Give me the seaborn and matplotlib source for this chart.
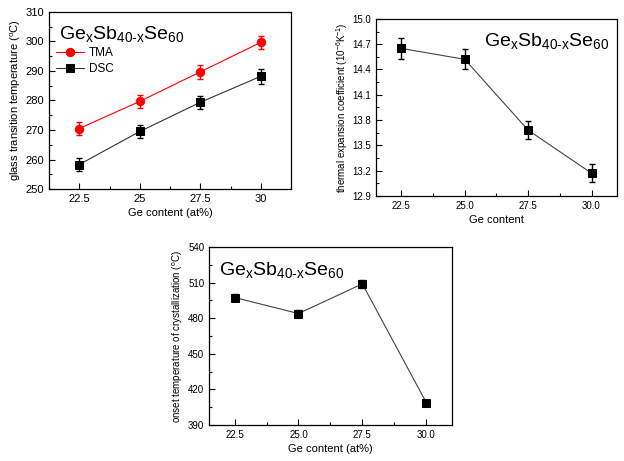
import numpy as np
import pandas as pd
import seaborn as sns
import matplotlib.pyplot as plt
from matplotlib.ticker import MultipleLocator

# dados
ge = [22.5, 25.0, 27.5, 30.0]
tg_tma = [270.5, 279.7, 289.7, 299.7]
tg_tma_err = [2.2, 2.2, 2.3, 2.3]
tg_dsc = [258.3, 269.5, 279.4, 288.2]
tg_dsc_err = [2.2, 2.2, 2.2, 2.5]
cte = [14.65, 14.52, 13.68, 13.17]
cte_err = [0.12, 0.12, 0.11, 0.11]
tx = [497.5, 484.0, 509.0, 409.0]
tx_err = [3.0, 3.0, 3.5, 2.5]

sns.set_theme(style="ticks")
plt.rcParams["font.family"] = ["Liberation Sans", "DejaVu Sans"]
plt.rcParams["mathtext.fontset"] = "custom"
plt.rcParams["mathtext.rm"] = "Liberation Sans"
plt.rcParams["mathtext.default"] = "regular"
for k in ["text.color", "axes.labelcolor", "xtick.color", "ytick.color",
          "axes.edgecolor"]:
    plt.rcParams[k] = "black"

formula = r"Ge$_x$Sb$_{40\text{-}x}$Se$_{60}$"

fig = plt.figure(figsize=(6.24, 4.61), dpi=100)
ax1 = fig.add_axes([0.0785, 0.590, 0.388, 0.384])
ax2 = fig.add_axes([0.6026, 0.575, 0.386, 0.384])
ax3 = fig.add_axes([0.335, 0.078, 0.389, 0.386])


def estilo(ax, tick_size):
    for s in ax.spines.values():
        s.set_linewidth(0.9)
        s.set_color("black")
    ax.tick_params(which="both", direction="in", labelsize=tick_size,
                   color="black", width=0.8)
    ax.tick_params(which="major", length=4)
    ax.tick_params(which="minor", length=2.5)
    ax.tick_params(top=False, right=False, which="both")


def serie(ax, y, err, cor, marcador, nome=None, cor_linha=None, ms=6):
    df = pd.DataFrame({"x": ge, "y": y})
    sns.lineplot(data=df, x="x", y="y", ax=ax, color=cor_linha or cor, lw=0.8,
                 marker=marcador, markersize=ms, markeredgecolor=cor,
                 markerfacecolor=cor, label=nome, legend=False)
    ax.errorbar(ge, y, yerr=err, fmt="none", ecolor=cor, elinewidth=1,
                capsize=2.5, capthick=1)


# painel 1 - temperatura de transição vítrea
serie(ax1, tg_tma, tg_tma_err, "red", "o", "TMA")
serie(ax1, tg_dsc, tg_dsc_err, "black", "s", "DSC", cor_linha="#333333")
ax1.set_xlim(21.25, 31.25)
ax1.set_ylim(250, 310)
ax1.set_xticks(ge)
ax1.set_xticklabels(["22.5", "25", "27.5", "30"])
ax1.xaxis.set_minor_locator(MultipleLocator(1.25))
ax1.yaxis.set_major_locator(MultipleLocator(10))
ax1.yaxis.set_minor_locator(MultipleLocator(5))
ax1.set_xlabel("Ge content (at%)", fontsize=8, labelpad=3)
ax1.set_ylabel("glass transition temperature ($^o$C)", fontsize=8, labelpad=2)
estilo(ax1, 8)
ax1.text(0.04, 0.93, formula, transform=ax1.transAxes, fontsize=14,
         va="top", ha="left")
ax1.legend(loc="upper left", bbox_to_anchor=(0.0, 0.84), frameon=False,
           fontsize=8.5, handlelength=2.4, handletextpad=0.4,
           labelspacing=0.3, borderaxespad=0.2)

# painel 2 - coeficiente de expansão térmica
serie(ax2, cte, cte_err, "black", "s", cor_linha="#444444")
ax2.set_xlim(21.5, 31.0)
ax2.set_ylim(12.9, 15.0)
ax2.set_xticks(ge)
ax2.set_xticklabels(["22.5", "25.0", "27.5", "30.0"])
ax2.xaxis.set_minor_locator(MultipleLocator(1.25))
ax2.yaxis.set_major_locator(MultipleLocator(0.3))
ax2.yaxis.set_minor_locator(MultipleLocator(0.15))
ax2.yaxis.set_major_formatter(plt.FormatStrFormatter("%.1f"))
ax2.set_xlabel("Ge content", fontsize=8, labelpad=3)
ax2.set_ylabel("thermal expansion coefficient (10$^{-6}$K$^{-1}$)",
               fontsize=7, labelpad=2)
estilo(ax2, 7)
ax2.text(0.97, 0.93, formula, transform=ax2.transAxes, fontsize=14,
         va="top", ha="right")

# painel 3 - início da cristalização
serie(ax3, tx, tx_err, "black", "s", cor_linha="#444444")
ax3.set_xlim(21.5, 31.0)
ax3.set_ylim(390, 540)
ax3.set_xticks(ge)
ax3.set_xticklabels(["22.5", "25.0", "27.5", "30.0"])
ax3.xaxis.set_minor_locator(MultipleLocator(1.25))
ax3.yaxis.set_major_locator(MultipleLocator(30))
ax3.yaxis.set_minor_locator(MultipleLocator(15))
ax3.set_xlabel("Ge content (at%)", fontsize=8, labelpad=3)
ax3.set_ylabel("onset temperature of crystallization ($^o$C)", fontsize=7,
               labelpad=2)
estilo(ax3, 7)
ax3.text(0.04, 0.93, formula, transform=ax3.transAxes, fontsize=14,
         va="top", ha="left")

fig.savefig("out.png", dpi=100)
